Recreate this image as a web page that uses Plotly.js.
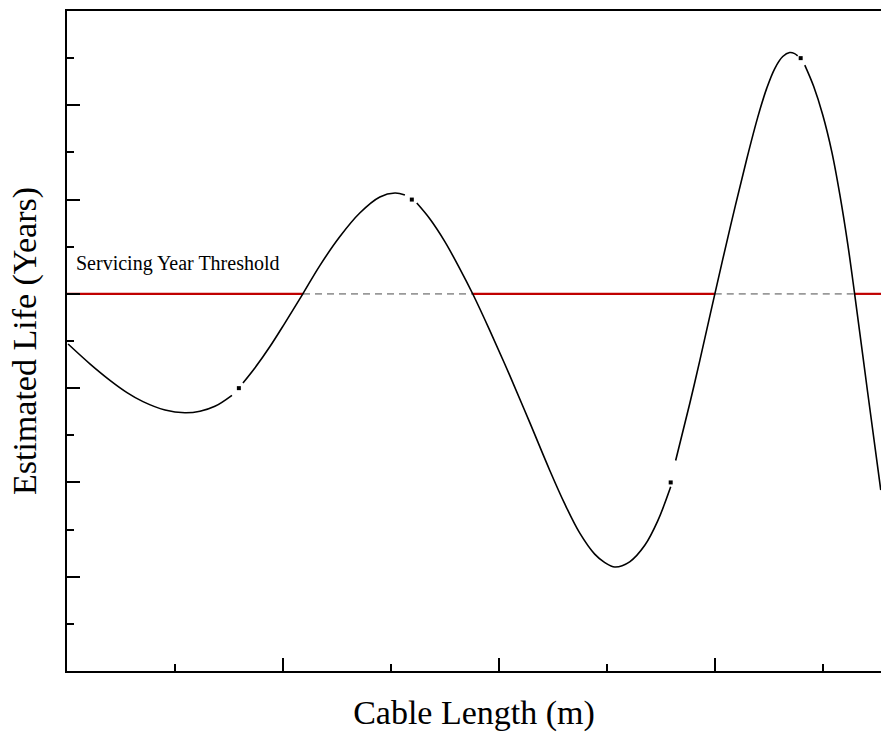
<!DOCTYPE html>
<html>
<head>
<meta charset="utf-8">
<script src="https://cdn.plot.ly/plotly-3.0.1.min.js"></script>
<style>html,body{margin:0;padding:0;background:#fff}#chart{width:881px;height:738px}</style>
</head>
<body>
<div id="chart"></div>
<script>
// Curve segments (null = gap drawn around data markers)
var curveX = [0.005, 0.106, 0.199, 0.278, 0.352, 0.454, 0.546, 0.616, 0.685, 0.764, null,
              0.815, 0.870, 0.940, 1.009, 1.093, 1.171, 1.264, 1.356, 1.449, 1.519, 1.565, null,
              1.620, 1.681, 1.750, 1.819, 1.880, 1.958, 2.051, 2.144, 2.236, 2.306, 2.375, 2.444, 2.491, 2.537, 2.606, 2.676, 2.736, 2.796, null,
              2.819, 2.884, 2.931, 3.000, 3.074, 3.148, 3.199, 3.241, 3.278, 3.315, 3.347, 3.370, 3.384, null,
              3.417, 3.458, 3.500, 3.542, 3.579, 3.616, 3.648, 3.708, 3.769];
var curveY = [3.468, 3.258, 3.083, 2.953, 2.857, 2.768, 2.739, 2.755, 2.807, 2.924, null,
              3.054, 3.213, 3.441, 3.690, 4.003, 4.300, 4.608, 4.857, 5.027, 5.069, 5.048, null,
              4.963, 4.794, 4.554, 4.268, 3.996, 3.613, 3.133, 2.631, 2.127, 1.769, 1.462, 1.240, 1.150, 1.103, 1.158, 1.333, 1.592, 1.953, null,
              2.232, 2.834, 3.295, 3.995, 4.729, 5.428, 5.872, 6.182, 6.390, 6.517, 6.559, 6.548, 6.524, null,
              6.426, 6.201, 5.900, 5.509, 5.058, 4.528, 3.998, 2.959, 1.919];
// Data points (square markers)
var pointX = [0.796, 1.597, 2.796, 3.398];
var pointY = [3.0, 5.0, 2.0, 6.5];
// Threshold and where the curve crosses it
var threshold = 4;
var redX = [0, 1.093, null, 1.880, 3.000, null, 3.648, 3.77];
var redY = [threshold, threshold, null, threshold, threshold, null, threshold, threshold];
var grayX = [1.093, 1.880, null, 3.000, 3.648];
var grayY = [threshold, threshold, null, threshold, threshold];
var thresholdLabel = "Servicing Year Threshold";
var xTitle = "Cable Length (m)";
var yTitle = "Estimated Life (Years)";

var traces = [
  {x: redX, y: redY, mode: 'lines', line: {color: '#c00000', width: 2.2}, connectgaps: false, hoverinfo: 'skip'},
  {x: grayX, y: grayY, mode: 'lines', line: {color: '#999999', width: 1.6, dash: '7px,5px'}, connectgaps: false, hoverinfo: 'skip'},
  {x: curveX, y: curveY, mode: 'lines', line: {color: '#000000', width: 1.6, shape: 'spline', smoothing: 1}, connectgaps: false, hoverinfo: 'skip'},
  {x: pointX, y: pointY, mode: 'markers', marker: {symbol: 'square', size: 4, color: '#000000'}, hoverinfo: 'skip'}
];

var layout = {
  width: 881, height: 738,
  margin: {l: 67, r: 0, t: 11, b: 67},
  paper_bgcolor: '#ffffff', plot_bgcolor: '#ffffff',
  showlegend: false,
  font: {family: 'Liberation Serif, Times New Roman, serif', color: '#000'},
  xaxis: {
    range: [0, 3.77], showgrid: false, zeroline: false,
    showline: true, linecolor: '#000', linewidth: 2, mirror: true,
    ticks: 'inside', ticklen: 13, tickwidth: 2, tickcolor: '#000',
    tick0: 0, dtick: 1, showticklabels: false,
    minor: {ticks: 'inside', ticklen: 7, tickwidth: 2, tickcolor: '#000', dtick: 0.5, showgrid: false},
    title: {text: xTitle, font: {size: 34, family: 'Liberation Serif, serif', color: '#000'}, standoff: 28}
  },
  yaxis: {
    range: [0, 7], showgrid: false, zeroline: false,
    showline: true, linecolor: '#000', linewidth: 2, mirror: false,
    ticks: 'inside', ticklen: 13, tickwidth: 2, tickcolor: '#000',
    tick0: 0, dtick: 1, showticklabels: false,
    minor: {ticks: 'inside', ticklen: 7, tickwidth: 2, tickcolor: '#000', dtick: 0.5, showgrid: false},
    title: {text: yTitle, font: {size: 34, family: 'Liberation Serif, serif', color: '#000'}, standoff: 18}
  },
  annotations: [{
    text: thresholdLabel, xref: 'paper', yref: 'y', x: 0.008, y: threshold + 0.18,
    xanchor: 'left', yanchor: 'bottom', showarrow: false,
    font: {size: 20, family: 'Liberation Serif, serif', color: '#000'}
  }]
};

Plotly.newPlot('chart', traces, layout, {displayModeBar: false, staticPlot: true});
</script>
</body>
</html>
